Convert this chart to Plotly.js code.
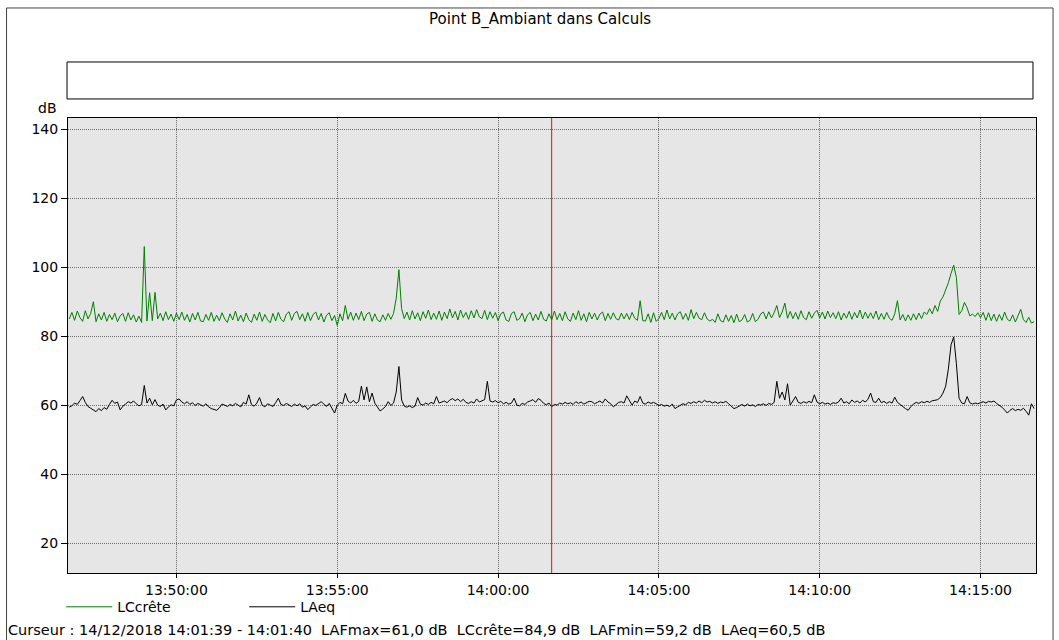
<!DOCTYPE html>
<html><head><meta charset="utf-8">
<script src="https://cdn.plot.ly/plotly-3.0.1.min.js"></script>
<style>html,body{margin:0;padding:0;background:#fff}#chart{width:1059px;height:640px}</style>
</head><body><div id="chart"></div>
<script>
const chartTitle = 'Point B_Ambiant dans Calculs';
const yUnit = 'dB';
const seriesNames = ['LCcrête', 'LAeq'];
const seriesColors = ['#008000', '#000000'];
const dateStr = '2018-12-14';
const startTime = '13:46:40';
const stepSeconds = 5;
const cursorTime = '14:01:40';
const cursorText = 'Curseur : 14/12/2018 14:01:39 - 14:01:40  LAFmax=61,0 dB  LCcrête=84,9 dB  LAFmin=59,2 dB  LAeq=60,5 dB';
const xRange = ['13:46:37.7', '14:16:43.5'];
const yRange = [11.3, 143.3];
const yTicks = [20, 40, 60, 80, 100, 120, 140];
const xTicks = ['13:50:00', '13:55:00', '14:00:00', '14:05:00', '14:10:00', '14:15:00'];

const LCcrete = [
85.0,86.9,84.6,87.3,85.4,84.3,87.4,85.0,86.6,90.0,84.2,86.5,84.7,86.9,84.3,86.3,84.8,86.7,84.2,85.9,
86.6,84.3,86.8,84.7,86.2,84.1,85.8,84.0,106.0,84.4,92.6,84.5,92.7,85.0,86.7,84.5,87.1,84.8,86.4,84.3,
86.7,84.8,87.0,84.6,86.3,84.1,86.6,84.7,86.9,84.4,84.2,86.3,84.6,86.9,84.3,86.1,84.5,86.8,85.0,84.0,
86.5,84.7,87.3,84.4,86.1,84.2,86.7,84.8,84.0,86.4,84.6,87.0,84.3,86.3,84.7,83.9,86.6,84.4,86.9,84.9,
84.2,86.4,87.1,84.6,86.6,87.2,84.8,86.5,84.3,86.9,84.5,86.3,87.0,84.7,86.6,84.1,86.1,86.8,84.5,86.0,
83.1,86.5,84.5,88.9,84.9,87.0,84.6,86.7,84.8,87.2,84.5,86.4,86.9,84.3,86.5,84.7,84.2,86.2,84.6,86.6,
84.9,86.6,91.0,99.3,88.0,85.1,87.0,84.7,87.4,85.0,86.8,84.5,87.1,85.2,87.6,84.8,86.7,84.9,87.3,84.6,
87.0,85.1,87.9,85.3,87.2,84.7,87.6,85.4,86.9,84.9,87.4,85.3,87.7,85.6,85.1,87.5,84.8,87.1,85.2,86.9,
84.5,86.5,87.0,84.7,84.3,86.6,87.1,84.6,85.1,86.7,84.2,86.2,86.9,84.5,86.4,84.7,87.2,84.9,84.4,86.5,
84.7,87.3,84.8,86.6,84.5,87.1,85.0,84.3,86.7,84.8,87.4,84.6,86.5,84.2,86.9,85.0,86.7,84.7,86.4,87.0,
84.5,86.6,84.9,86.8,85.1,84.7,86.7,85.0,86.6,84.8,86.9,85.2,84.6,90.3,84.5,84.4,86.5,84.0,86.8,84.3,
85.1,86.9,84.8,87.6,85.0,86.7,84.7,86.5,87.1,84.9,86.6,84.6,87.7,85.1,86.9,85.2,84.8,86.8,85.0,84.4,
84.9,84.0,86.5,84.5,84.1,86.2,84.3,86.0,83.9,86.4,84.2,84.7,86.3,84.1,84.6,86.6,84.2,84.9,86.5,87.0,
85.0,87.1,85.3,86.8,88.9,85.4,87.0,89.6,85.2,87.2,85.1,86.9,84.9,87.4,85.4,84.8,87.1,85.2,86.7,87.5,
85.3,87.0,85.0,87.3,85.4,86.8,85.1,87.1,84.7,86.7,85.2,87.2,84.9,86.9,85.3,87.6,85.0,87.0,85.2,86.8,
85.1,87.3,84.8,86.6,84.9,86.9,85.2,84.6,86.5,90.3,84.7,86.3,84.4,86.2,84.6,86.5,84.8,86.7,85.1,87.0,
86.3,88.0,86.5,88.9,87.2,90.2,91.4,93.3,95.5,98.2,100.6,97.0,86.3,87.4,89.8,88.2,85.9,86.4,85.7,86.8,
85.4,86.9,84.6,86.8,84.5,86.4,84.3,86.3,84.6,87.0,84.9,84.4,86.2,84.1,86.0,87.8,84.8,84.0,85.5,83.8,
84.2
];

const LAeq = [
59.4,59.8,60.6,60.2,61.3,62.5,60.8,59.6,59.1,58.6,58.1,59.0,58.4,59.3,58.8,60.2,61.4,60.5,60.9,58.6,
59.7,60.3,61.0,60.6,61.2,60.4,59.8,60.2,65.7,60.6,62.0,60.1,61.6,60.0,59.6,60.3,58.6,59.5,60.1,59.8,
61.5,61.8,60.9,60.4,61.0,60.2,60.7,59.9,60.5,60.1,59.7,60.4,59.5,59.0,58.8,58.5,59.2,60.3,60.0,59.6,
60.2,59.8,60.5,60.1,59.5,60.8,60.3,63.0,60.1,59.7,60.6,62.2,60.0,59.5,60.4,60.0,59.6,60.7,62.0,60.2,
59.9,60.5,60.0,59.6,60.3,59.8,60.4,59.4,59.8,58.7,59.5,60.2,59.9,60.4,61.0,60.3,59.6,60.5,59.2,57.7,
60.0,60.8,60.4,63.4,61.2,60.6,61.4,60.5,61.1,65.5,61.5,65.3,61.0,63.5,60.6,59.4,58.3,58.9,59.6,61.0,
59.9,60.6,63.8,71.2,61.5,59.7,59.4,59.8,59.3,59.7,62.2,60.3,60.0,60.6,60.2,60.8,60.4,62.5,60.6,60.9,
61.2,60.7,61.5,61.9,61.3,61.8,61.0,61.7,60.8,60.5,61.0,60.6,61.8,60.9,61.3,61.6,66.9,61.2,60.9,61.3,
60.7,61.1,60.4,60.8,60.3,60.6,62.0,60.0,59.8,60.5,60.2,60.9,61.2,61.6,60.8,61.9,61.4,60.5,60.1,60.6,
59.5,60.2,60.0,60.6,60.3,60.8,60.4,60.7,60.2,61.0,60.5,60.9,60.3,60.6,61.1,61.0,60.4,60.8,61.2,60.6,
61.8,60.9,60.4,59.5,60.3,60.8,61.0,60.6,62.7,61.3,60.0,61.2,60.7,62.5,60.6,60.3,60.9,60.5,60.8,60.4,
59.9,60.2,59.7,60.0,59.6,60.3,59.0,59.5,59.9,60.4,60.1,60.8,60.5,61.0,60.6,61.2,60.7,61.4,60.9,61.1,
60.6,61.0,60.5,60.9,60.7,61.1,60.4,59.6,59.0,59.3,59.8,60.2,59.7,60.3,59.8,60.1,59.6,60.2,60.0,60.4,
59.9,60.5,60.2,60.8,66.9,62.0,63.8,61.5,66.2,60.0,61.2,62.5,60.8,60.5,61.0,60.6,61.1,60.7,63.0,60.9,
60.4,60.8,60.3,60.6,60.2,60.7,60.5,60.9,62.0,60.6,61.0,60.4,61.5,60.8,61.2,60.6,61.4,60.9,61.7,63.5,
61.0,60.8,62.0,60.7,61.1,60.5,61.0,60.6,62.3,60.8,60.2,59.5,59.0,58.5,59.6,60.3,60.8,60.5,61.0,60.7,
61.1,60.8,61.3,61.4,61.6,62.2,63.5,65.5,70.5,77.5,79.8,72.0,62.0,60.6,60.4,62.5,60.7,60.3,60.6,60.4,
60.8,61.0,60.6,61.1,60.9,61.2,60.5,60.0,59.4,58.6,57.7,58.5,59.0,58.4,58.8,58.5,59.1,58.2,57.1,60.4,
59.0
];

function toSec(hms) {
  const p = hms.split(':').map(Number);
  return p[0] * 3600 + p[1] * 60 + p[2];
}
function fmt(sec) {
  const h = Math.floor(sec / 3600), m = Math.floor((sec % 3600) / 60), s = sec % 60;
  const pad = v => String(v).padStart(2, '0');
  return dateStr + ' ' + pad(h) + ':' + pad(m) + ':' + pad(s);
}
const t0 = toSec(startTime);
const times = LCcrete.map((_, i) => fmt(t0 + i * stepSeconds));
const full = t => dateStr + ' ' + t;

const font = 'DejaVu Sans, Verdana, sans-serif';

const traces = [LCcrete, LAeq].map((vals, k) => ({
  type: 'scatter', mode: 'lines', name: seriesNames[k],
  x: times, y: vals,
  line: { color: seriesColors[k], width: 1 },
  hoverinfo: 'x+y+name'
}));

const gridStyle = { showgrid: true, gridcolor: '#6e6e6e', griddash: '1px,1px', gridwidth: 1 };

const layout = {
  width: 1059, height: 640,
  margin: { l: 68, r: 23, t: 118, b: 67 },
  paper_bgcolor: '#ffffff', plot_bgcolor: '#e6e6e6',
  font: { family: font, size: 14, color: '#000' },
  title: { text: chartTitle, x: 0.51, xref: 'container', y: 0.97, yref: 'container', xanchor: 'center', yanchor: 'middle', font: { family: font, size: 15, color: '#000' } },
  showlegend: true,
  legend: { orientation: 'h', x: -0.007, y: -0.04, xanchor: 'left', yanchor: 'top', itemwidth: 46, entrywidth: 122, font: { family: font, size: 14 }, bgcolor: 'rgba(0,0,0,0)', traceorder: 'normal', itemclick: false },
  xaxis: Object.assign({
    type: 'date', range: xRange.map(full),
    tickmode: 'array', tickvals: xTicks.map(full), ticktext: xTicks,
    showline: true, linecolor: '#000', linewidth: 1, mirror: true,
    ticks: 'outside', ticklen: 4, tickcolor: '#000',
    zeroline: false, tickfont: { family: font, size: 14 }
  }, gridStyle),
  yaxis: Object.assign({
    range: yRange, tickmode: 'array', tickvals: yTicks,
    showline: true, linecolor: '#000', linewidth: 1, mirror: true,
    ticks: 'outside', ticklen: 6, tickcolor: '#000',
    zeroline: false, tickfont: { family: font, size: 14 }
  }, gridStyle),
  shapes: [
    { type: 'line', xref: 'x', yref: 'paper', x0: full(cursorTime), x1: full(cursorTime), y0: 0, y1: 1, line: { color: '#ff0000', width: 1 } },
    { type: 'rect', xref: 'paper', yref: 'paper', x0: -0.001, x1: 0.9969, y0: 1.0418, y1: 1.1231, line: { color: '#000', width: 1 }, fillcolor: 'rgba(0,0,0,0)' },
    { type: 'rect', xref: 'paper', yref: 'paper', x0: -0.0635, x1: 1.0176, y0: -0.16, y1: 1.2418, line: { color: '#444', width: 1 }, fillcolor: 'rgba(0,0,0,0)' }
  ],
  annotations: [
    { text: yUnit, xref: 'paper', yref: 'paper', x: -0.021, y: 1.021, xanchor: 'center', yanchor: 'middle', showarrow: false, font: { family: font, size: 14 } },
    { text: cursorText, xref: 'paper', yref: 'paper', x: -0.0645, y: -0.125, xanchor: 'left', yanchor: 'middle', showarrow: false, font: { family: font, size: 14.5 } }
  ]
};

Plotly.newPlot('chart', traces, layout, { displayModeBar: false });
</script>
</body></html>
